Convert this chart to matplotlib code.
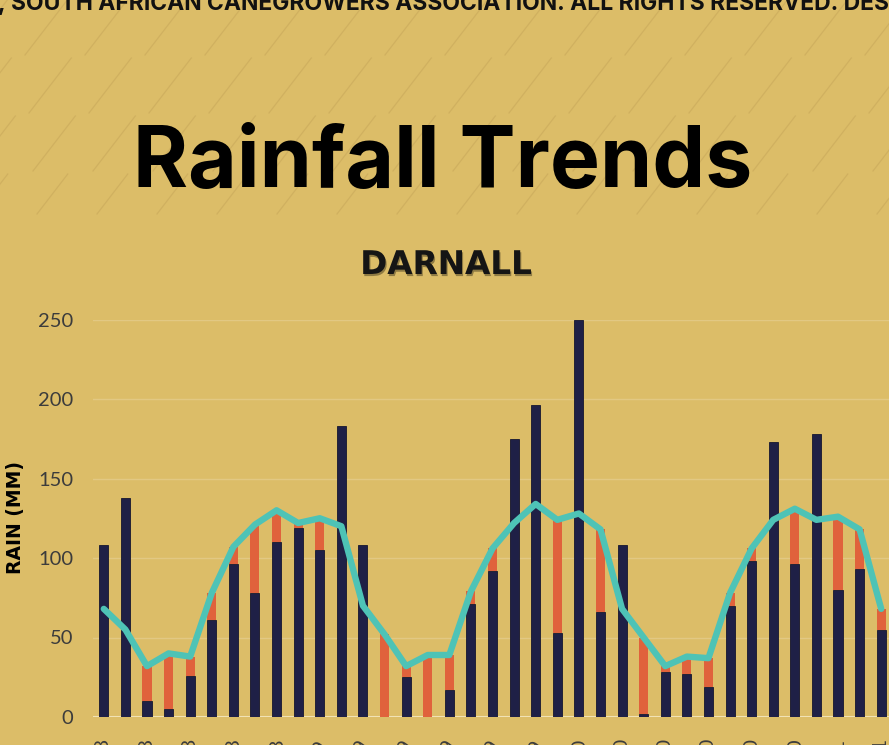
import matplotlib
matplotlib.use("Agg")
import matplotlib.pyplot as plt
import matplotlib.patheffects as pe
import numpy as np

# monthly rainfall, Darnall (mm)
months = ["Apr-18", "May-18", "Jun-18", "Jul-18", "Aug-18", "Sep-18", "Oct-18", "Nov-18", "Dec-18",
          "Jan-19", "Feb-19", "Mar-19", "Apr-19", "May-19", "Jun-19", "Jul-19", "Aug-19", "Sep-19",
          "Oct-19", "Nov-19", "Dec-19", "Jan-20", "Feb-20", "Mar-20", "Apr-20", "May-20", "Jun-20",
          "Jul-20", "Aug-20", "Sep-20", "Oct-20", "Nov-20", "Dec-20", "Jan-21", "Feb-21", "Mar-21",
          "Apr-21"]
actual = [108, 138, 10, 5, 26, 61, 96, 78, 110, 119, 105, 183, 108, 0, 25, 0, 17, 71, 92,
          175, 196, 53, 250, 66, 108, 2, 28, 27, 19, 70, 98, 173, 96, 178, 80, 93, 55]
lta = [68, 55, 32, 40, 38, 78, 107, 121, 130, 122, 125, 120, 70, 52, 32, 39, 39, 79, 106,
       122, 134, 124, 128, 118, 68, 50, 32, 38, 37, 78, 106, 124, 131, 124, 126, 118, 68]

deficit = [max(l - a, 0) for a, l in zip(actual, lta)]

BG = "#dcbd68"
NAVY = "#1f2046"
ORANGE = "#e0623c"
TEAL = "#4ec3b6"

W, H = 889, 745
fig = plt.figure(figsize=(W / 100, H / 100), dpi=100)
fig.patch.set_facecolor(BG)

# faint diagonal stripes in the header
bg = fig.add_axes([0, 0, 1, 1], zorder=0)
bg.set_xlim(0, W)
bg.set_ylim(H, 0)
bg.axis("off")
rows = [(0, 55), (58, 113), (116, 171), (174, 214)]
for r, (top, bot) in enumerate(rows):
    dx = (bot - top) / 1.3
    for c in range(-2, 17):
        x0 = c * 60 + r * 4 + 25
        bg.plot([x0, x0 + dx], [bot, top], color="#c4a458", lw=0.9, alpha=0.5)

# header texts
fig.text(-0.002, 1 - 10 / H, ", SOUTH AFRICAN CANEGROWERS ASSOCIATION. ALL RIGHTS RESERVED. DESIGNED BY",
         ha="left", va="baseline", fontsize=16.5, fontweight="bold", family="Inter", color="#111111")
fig.text(443 / W, 1 - 187 / H, "Rainfall Trends", ha="center", va="baseline",
         fontsize=60.5, fontweight="bold", family="Inter", color="black")
fig.text(446 / W, 1 - 274 / H, "DARNALL", ha="center", va="baseline", fontsize=23.5,
         fontweight="bold", family="DejaVu Sans", color="#151515",
         path_effects=[pe.withSimplePatchShadow(offset=(0.8, -1.5), shadow_rgbFace="black", alpha=0.35)])
fig.text(16 / W, 1 - 517 / H, "RAIN (MM)", rotation=90, ha="center", va="center",
         fontsize=13.5, fontweight="bold", family="DejaVu Sans", color="black")

# chart
ax = fig.add_axes([93 / W, 28 / H, 799 / W, 397.5 / H], zorder=2)
ax.set_facecolor("none")
x = np.arange(len(actual))
ax.bar(x, actual, width=0.42, color=NAVY, edgecolor="#16162f", lw=0.6, zorder=3)
ax.bar(x, deficit, bottom=actual, width=0.42, color=ORANGE, zorder=3)
ax.plot(x, lta, color=TEAL, lw=4.6, solid_joinstyle="round", solid_capstyle="round", zorder=4)
ax.axhline(0, color="#f1e2b5", lw=1.5, zorder=2)

ax.set_xlim(-0.5, len(actual) - 0.5)
ax.set_ylim(0, 250)
ax.set_yticks(range(0, 251, 50))
ax.set_xticks(x[::2])
ax.set_xticklabels(months[::2], rotation=90)
ax.yaxis.grid(True, color="#e2c883", lw=1.0)
ax.set_axisbelow(True)
for s in ax.spines.values():
    s.set_visible(False)
ax.tick_params(axis="y", length=0, pad=14, labelsize=14.5, labelcolor="#3c3c3c")
ax.tick_params(axis="x", length=0, pad=15, labelsize=14.5, labelcolor="#3c3c3c")
for lab in ax.get_xticklabels() + ax.get_yticklabels():
    lab.set_family("Lato")

fig.savefig("out.png", dpi=100, facecolor=BG)
